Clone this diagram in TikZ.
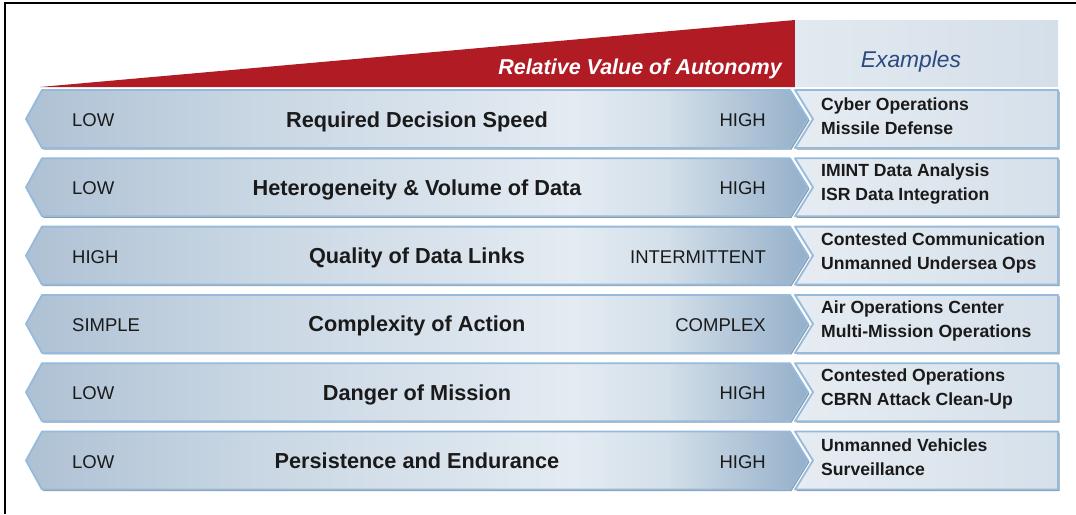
\documentclass[tikz,border=0pt]{standalone}
\usepackage{fontspec}
\setmainfont{Liberation Sans}
\definecolor{redw}{HTML}{B01B24}
\definecolor{bandA}{HTML}{AEC1D4}
\definecolor{bandB}{HTML}{C8D6E3}
\definecolor{bandC}{HTML}{E4EBF2}
\definecolor{bandC2}{HTML}{D3DFE9}
\definecolor{bandD}{HTML}{94AFC9}
\definecolor{edgeblue}{HTML}{95BADC}
\definecolor{shadowg}{HTML}{8E9AA6}
\definecolor{exL}{HTML}{E6ECF2}
\definecolor{exR}{HTML}{D6E0EA}
\definecolor{hdrL}{HTML}{E2E9F0}
\definecolor{hdrR}{HTML}{D5DFE9}
\definecolor{exblue}{HTML}{2B4A80}
\definecolor{txt}{HTML}{1A1A1A}
\pgfdeclarehorizontalshading{bandshade}{100bp}{color(0bp)=(bandA); color(25bp)=(bandA); color(39bp)=(bandB); color(60bp)=(bandC); color(66bp)=(bandC2); color(75bp)=(bandD); color(100bp)=(bandD)}
\tikzset{
  bandpath/.style={shading=bandshade, draw=edgeblue, line width=1.8pt, line join=round},
  shadowpath/.style={fill=shadowg, draw=none},
  expath/.style={left color=exL, right color=exR, draw=edgeblue, line width=1.8pt, line join=round},
  title/.style={font=\fontsize{21.7}{25}\selectfont\bfseries, text=txt, inner sep=0pt, anchor=base},
  endlabel/.style={font=\fontsize{18.5}{22}\selectfont, text=txt, inner sep=0pt},
  extext/.style={font=\fontsize{17.6}{24}\selectfont\bfseries, text=txt, inner sep=0pt, align=left, anchor=west},
}
\begin{document}
\begin{tikzpicture}[x=1pt,y=-1pt]
\useasboundingbox (0,0) rectangle (1076,514);
% frame
\draw[line width=1.3pt, black] (5,514) -- (5,3) -- (1076,3);
% header
\fill[redw] (40,87) -- (795,20) -- (795,87) -- cycle;
\fill[left color=hdrL, right color=hdrR] (795,20) rectangle (1058,86);
\node[font=\fontsize{21.5}{25}\selectfont\bfseries\itshape, text=white, inner sep=0pt, anchor=base east] (rva) at (782,74.5) {Relative Value of Autonomy};
\node[font=\fontsize{22.8}{26}\selectfont\itshape, text=exblue, inner sep=0pt, anchor=base] (exh) at (911,67) {Examples};
% rows
\foreach \i/\lo/\ti/\hi/\ea/\eb in {
 0/LOW/Required Decision Speed/HIGH/Cyber Operations/Missile Defense,
 1/LOW/Heterogeneity \& Volume of Data/HIGH/IMINT Data Analysis/ISR Data Integration,
 2/HIGH/Quality of Data Links/INTERMITTENT/Contested Communication/Unmanned Undersea Ops,
 3/SIMPLE/Complexity of Action/COMPLEX/Air Operations Center/Multi-Mission Operations,
 4/LOW/Danger of Mission/HIGH/Contested Operations/CBRN Attack Clean-Up,
 5/LOW/Persistence and Endurance/HIGH/Unmanned Vehicles/Surveillance}{
  \pgfmathsetmacro{\T}{90+68.3*\i}
  \pgfmathsetmacro{\B}{\T+58}
  \pgfmathsetmacro{\M}{\T+29}
  % shadows
  \fill[shadowpath] (43.5,\T+1.5) -- (791.5,\T+1.5) -- (809.5,\M+1.5) -- (791.5,\B+1.5) -- (43.5,\B+1.5) -- (27.5,\M+1.5) -- cycle;
  \fill[shadowpath] (796.5,\T+1.5) -- (1059.5,\T+1.5) -- (1059.5,\B+1.5) -- (796.5,\B+1.5) -- (814.5,\M+1.5) -- cycle;
  % band arrow
  \path[bandpath] (42,\T) -- (790,\T) -- (808,\M) -- (790,\B) -- (42,\B) -- (26,\M) -- cycle;
  % examples box
  \path[expath] (795,\T) -- (1058,\T) -- (1058,\B) -- (795,\B) -- (813,\M) -- cycle;
  \node[endlabel, anchor=base west] (lo\i) at (72,\M+7.5) {\lo};
  \node[title] (ti\i) at (417,\M+8) {\ti};
  \node[endlabel, anchor=base east] (hi\i) at (766,\M+7.5) {\hi};
  \node[extext] (ex\i) at (821,\M-3) {\ea\\\eb};
}
\end{tikzpicture}
\end{document}
